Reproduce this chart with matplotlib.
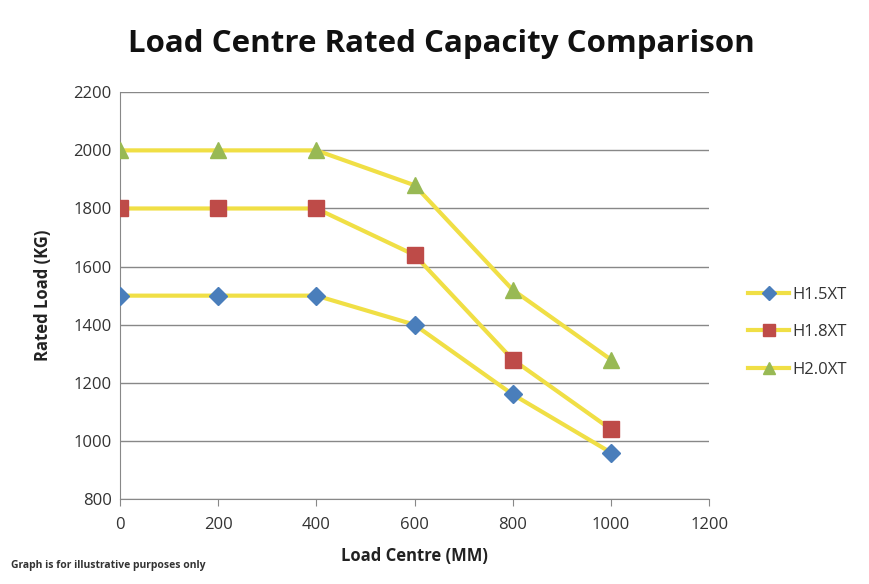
import matplotlib
matplotlib.use("Agg")
import matplotlib.pyplot as plt

plt.rcParams['font.family'] = ['Open Sans', 'DejaVu Sans']

load_centre = [0, 200, 400, 600, 800, 1000]
h15 = [1500, 1500, 1500, 1400, 1160, 960]
h18 = [1800, 1800, 1800, 1640, 1280, 1040]
h20 = [2000, 2000, 2000, 1880, 1520, 1280]
series_names = ["H1.5XT", "H1.8XT", "H2.0XT"]

line_col = "#F0DF45"
fig = plt.figure(figsize=(8.69, 5.84), dpi=100)
ax = fig.add_axes([0.138, 0.1455, 0.678, 0.6965])

ax.plot(load_centre, h15, color=line_col, lw=3, marker="D", ms=9,
        mfc="#4A7EBB", mec="#4A7EBB", label=series_names[0], zorder=3)
ax.plot(load_centre, h18, color=line_col, lw=3, marker="s", ms=11,
        mfc="#BE4B48", mec="#BE4B48", label=series_names[1], zorder=3)
ax.plot(load_centre, h20, color=line_col, lw=3, marker="^", ms=12,
        mfc="#98B954", mec="#98B954", label=series_names[2], zorder=3)

ax.set_xlim(0, 1200)
ax.set_ylim(800, 2200)
ax.set_xticks(range(0, 1201, 200))
ax.set_yticks(range(800, 2201, 200))
ax.grid(axis="y", color="#888888", lw=1)
ax.set_axisbelow(True)
for s in ["top", "right"]:
    ax.spines[s].set_visible(False)
ax.spines["left"].set_color("#888888")
ax.spines["bottom"].set_color("#888888")
ax.tick_params(axis="both", colors="#888888", labelcolor="#333333", labelsize=12, length=5)
ax.tick_params(axis="x", pad=8)
ax.tick_params(axis="y", length=0, pad=6)

ax.set_xlabel("Load Centre (MM)", fontsize=12, fontweight="bold", color="#222222", labelpad=10)
ax.set_ylabel("Rated Load (KG)", fontsize=12, fontweight="bold", color="#222222", labelpad=15)
fig.suptitle("Load Centre Rated Capacity Comparison", fontsize=22.5, fontweight="bold",
             x=0.508, y=0.924, va="center", color="#111111")
fig.text(0.013, 0.028, "Graph is for illustrative purposes only", fontsize=7.5,
         fontweight="bold", color="#333333")

ax.legend(loc="center left", bbox_to_anchor=(1.04, 0.41), frameon=False, fontsize=12,
          handlelength=2.5, labelspacing=1.3, handletextpad=0.2, markerscale=0.75,
          labelcolor="#333333")

plt.savefig("out.png")
